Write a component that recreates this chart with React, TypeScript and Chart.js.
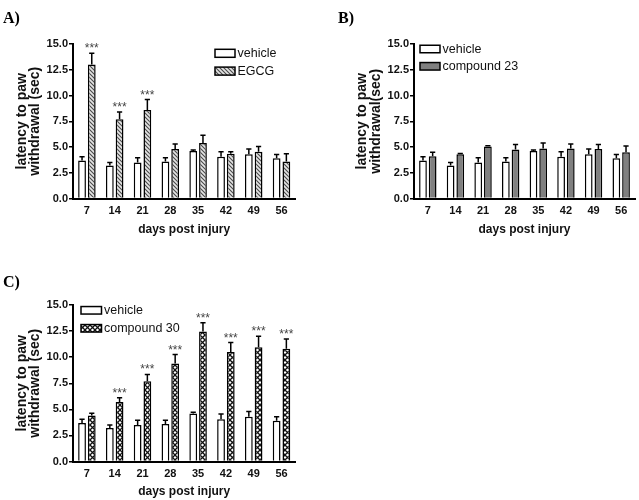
import React, { useEffect, useRef } from 'react';
import { Chart, registerables } from 'chart.js';

Chart.register(...registerables);

// ---- data ----
const days = ['7', '14', '21', '28', '35', '42', '49', '56'];
const yTicks = [0, 2.5, 5, 7.5, 10, 12.5, 15];

const vehicleMean = [3.7, 3.2, 3.5, 3.6, 4.6, 4.05, 4.3, 3.9];
const vehicleSem = [0.35, 0.3, 0.45, 0.35, 0.12, 0.5, 0.5, 0.38];

const egcgMean = [13.0, 7.7, 8.6, 4.8, 5.4, 4.35, 4.55, 3.6];
const egcgSem = [1.1, 0.7, 1.0, 0.5, 0.75, 0.2, 0.5, 0.75];
const egcgSig = ['***', '***', '***', '', '', '', '', ''];

const c23Mean = [4.1, 4.3, 5.05, 4.75, 4.85, 4.85, 4.8, 4.5];
const c23Sem = [0.4, 0.08, 0.08, 0.5, 0.55, 0.45, 0.45, 0.6];
const c23Sig = ['', '', '', '', '', '', '', ''];

const c30Mean = [4.4, 5.7, 7.7, 9.4, 12.45, 10.5, 10.95, 10.8];
const c30Sem = [0.22, 0.4, 0.65, 0.85, 0.85, 0.9, 1.05, 0.95];
const c30Sig = ['', '***', '***', '***', '***', '***', '***', '***'];

const noSig = ['', '', '', '', '', '', '', ''];

// ---- patterns ----
function hatchPattern(): CanvasPattern | string {
  const c = document.createElement('canvas');
  c.width = 4;
  c.height = 4;
  const g = c.getContext('2d');
  if (!g) return '#bbb';
  g.fillStyle = '#e4e4e4';
  g.fillRect(0, 0, 4, 4);
  g.strokeStyle = '#4a4a4a';
  g.lineWidth = 1.1;
  g.beginPath();
  g.moveTo(-1, -1);
  g.lineTo(5, 5);
  g.moveTo(3, -1);
  g.lineTo(5, 1);
  g.moveTo(-1, 3);
  g.lineTo(1, 5);
  g.stroke();
  return g.createPattern(c, 'repeat') || '#bbb';
}

function crossPattern(): CanvasPattern | string {
  const s = 5;
  const c = document.createElement('canvas');
  c.width = s;
  c.height = s;
  const g = c.getContext('2d');
  if (!g) return '#666';
  g.fillStyle = '#ffffff';
  g.fillRect(0, 0, s, s);
  g.strokeStyle = '#111';
  g.lineWidth = 1.3;
  g.beginPath();
  g.moveTo(-1, -1);
  g.lineTo(s + 1, s + 1);
  g.moveTo(s + 1, -1);
  g.lineTo(-1, s + 1);
  g.stroke();
  return g.createPattern(c, 'repeat') || '#666';
}

// ---- plugins ----
const errorBarPlugin = {
  id: 'errBars',
  afterDatasetsDraw(chart: any, _args: any, opts: any) {
    const ctx = chart.ctx;
    const yScale = chart.scales.y;
    chart.data.datasets.forEach((ds: any, di: number) => {
      const meta = chart.getDatasetMeta(di);
      const errs: number[] = opts.errors[di];
      const sig: string[] = opts.sig[di];
      meta.data.forEach((bar: any, i: number) => {
        const v = ds.data[i];
        const yTop = yScale.getPixelForValue(v + errs[i]);
        ctx.save();
        ctx.strokeStyle = '#000';
        ctx.lineWidth = 1.5;
        ctx.beginPath();
        ctx.moveTo(bar.x, bar.y);
        ctx.lineTo(bar.x, yTop);
        ctx.moveTo(bar.x - 2.6, yTop);
        ctx.lineTo(bar.x + 2.6, yTop);
        ctx.stroke();
        if (sig && sig[i]) {
          ctx.fillStyle = '#444';
          ctx.font = '12px "Liberation Sans", Arial, sans-serif';
          ctx.textAlign = 'center';
          ctx.textBaseline = 'alphabetic';
          ctx.fillText(sig[i], bar.x, yTop - 1);
        }
        ctx.restore();
      });
    });
  },
};

const boxLegendPlugin = {
  id: 'boxLegend',
  afterDraw(chart: any, _args: any, opts: any) {
    const ctx = chart.ctx;
    chart.data.datasets.forEach((ds: any, i: number) => {
      const cy = opts.y + i * opts.dy;
      ctx.save();
      ctx.fillStyle = ds.backgroundColor;
      ctx.fillRect(opts.x, cy - opts.h / 2, opts.w, opts.h);
      ctx.strokeStyle = '#000';
      ctx.lineWidth = 1.5;
      ctx.strokeRect(opts.x, cy - opts.h / 2, opts.w, opts.h);
      ctx.fillStyle = '#111';
      ctx.font = '12.5px "Liberation Sans", Arial, sans-serif';
      ctx.textAlign = 'left';
      ctx.textBaseline = 'middle';
      ctx.fillText(ds.label, opts.x + opts.w + 2.5, cy + 0.5);
      ctx.restore();
    });
  },
};

type PanelSpec = {
  treatLabel: string;
  treatMean: number[];
  treatSem: number[];
  treatSig: string[];
  treatFill: () => CanvasPattern | string;
  yTitle: string[];
  yTitlePad: number;
  yTitleLH: number;
  yAxisWidth: number;
  xAxisHeight: number;
  padTop: number;
  padRight: number;
  xTitlePadBottom: number;
  legend: { x: number; y: number; dy: number; w: number; h: number };
};

function buildConfig(p: PanelSpec): any {
  return {
    type: 'bar',
    data: {
      labels: days,
      datasets: [
        {
          label: 'vehicle',
          data: vehicleMean,
          backgroundColor: '#ffffff',
          borderColor: '#000',
          borderWidth: 1.5,
          barPercentage: 0.8,
          categoryPercentage: 0.7,
        },
        {
          label: p.treatLabel,
          data: p.treatMean,
          backgroundColor: p.treatFill(),
          borderColor: '#000',
          borderWidth: 1.5,
          barPercentage: 0.8,
          categoryPercentage: 0.7,
        },
      ],
    },
    options: {
      animation: false,
      responsive: false,
      maintainAspectRatio: false,
      events: [],
      layout: { padding: { top: p.padTop, right: p.padRight, bottom: 0, left: 0 } },
      plugins: {
        legend: { display: false },
        tooltip: { enabled: false },
        title: { display: false },
        errBars: { errors: [vehicleSem, p.treatSem], sig: [noSig, p.treatSig] },
        boxLegend: p.legend,
      },
      scales: {
        x: {
          offset: true,
          grid: { display: false, drawTicks: false },
          border: { display: true, color: '#000', width: 2 },
          ticks: {
            color: '#111',
            padding: 6,
            maxRotation: 0,
            font: { family: '"Liberation Sans", Arial, sans-serif', size: 11, weight: 'bold' },
          },
          title: {
            display: true,
            text: 'days post injury',
            color: '#111',
            padding: { top: 0, bottom: p.xTitlePadBottom },
            font: { family: '"Liberation Sans", Arial, sans-serif', size: 12, weight: 'bold', lineHeight: 1.2 },
          },
          afterFit: (s: any) => {
            s.height = p.xAxisHeight;
          },
        },
        y: {
          min: 0,
          max: 15,
          afterBuildTicks: (s: any) => {
            s.ticks = yTicks.map((v) => ({ value: v }));
          },
          grid: {
            display: true,
            drawOnChartArea: false,
            drawTicks: true,
            tickLength: 4,
            color: '#000',
            lineWidth: 1.5,
          },
          border: { display: true, color: '#000', width: 2 },
          ticks: {
            color: '#111',
            padding: 1,
            callback: (v: any) => Number(v).toFixed(1),
            font: { family: '"Liberation Sans", Arial, sans-serif', size: 11, weight: 'bold' },
          },
          title: {
            display: true,
            text: p.yTitle,
            color: '#111',
            padding: { top: p.yTitlePad, bottom: 0 },
            font: { family: '"Liberation Sans", Arial, sans-serif', size: 14, weight: 'bold', lineHeight: p.yTitleLH },
          },
          afterFit: (s: any) => {
            s.width = p.yAxisWidth;
          },
        },
      },
    },
    plugins: [errorBarPlugin, boxLegendPlugin],
  };
}

function Panel(props: { spec: PanelSpec; left: number; top: number; width: number; height: number }) {
  const ref = useRef<HTMLCanvasElement | null>(null);
  useEffect(() => {
    if (!ref.current) return;
    const chart = new Chart(ref.current, buildConfig(props.spec));
    return () => chart.destroy();
  }, []);
  return (
    <canvas
      ref={ref}
      width={props.width}
      height={props.height}
      style={{
        position: 'absolute',
        left: props.left,
        top: props.top,
        width: props.width,
        height: props.height,
      }}
    />
  );
}

const specA: PanelSpec = {
  treatLabel: 'EGCG',
  treatMean: egcgMean,
  treatSem: egcgSem,
  treatSig: egcgSig,
  treatFill: hatchPattern,
  yTitle: ['latency to paw', 'withdrawal (sec)'],
  yTitlePad: 15.7,
  yTitleLH: 0.93,
  yAxisWidth: 73,
  xAxisHeight: 41.5,
  padTop: 44,
  padRight: 24.6,
  xTitlePadBottom: 3.5,
  legend: { x: 215, y: 53.3, dy: 17.8, w: 20, h: 8 },
};

const specB: PanelSpec = {
  treatLabel: 'compound 23',
  treatMean: c23Mean,
  treatSem: c23Sem,
  treatSig: c23Sig,
  treatFill: () => '#808080',
  yTitle: ['latency to paw', 'withdrawal(sec)'],
  yTitlePad: 34.9,
  yTitleLH: 1.0,
  yAxisWidth: 94,
  xAxisHeight: 41.5,
  padTop: 44,
  padRight: 4,
  xTitlePadBottom: 3.5,
  legend: { x: 100, y: 49, dy: 17.3, w: 20, h: 7.5 },
};

const specC: PanelSpec = {
  treatLabel: 'compound 30',
  treatMean: c30Mean,
  treatSem: c30Sem,
  treatSig: c30Sig,
  treatFill: crossPattern,
  yTitle: ['latency to paw', 'withdrawal (sec)'],
  yTitlePad: 15.7,
  yTitleLH: 0.93,
  yAxisWidth: 73,
  xAxisHeight: 38.5,
  padTop: 65,
  padRight: 24.6,
  xTitlePadBottom: 1.1,
  legend: { x: 81, y: 70.3, dy: 18, w: 20.5, h: 7.5 },
};

const labelStyle: React.CSSProperties = {
  position: 'absolute',
  fontFamily: '"Liberation Serif", "Times New Roman", serif',
  fontWeight: 'bold',
  fontSize: 16,
  lineHeight: '16px',
  color: '#000',
};

export default function App() {
  return (
    <div
      style={{
        position: 'fixed',
        left: 0,
        top: 0,
        width: 639,
        height: 500,
        background: '#ffffff',
        overflow: 'hidden',
      }}
    >
      <Panel spec={specA} left={0} top={0} width={320} height={240} />
      <Panel spec={specB} left={320} top={0} width={319} height={240} />
      <Panel spec={specC} left={0} top={240} width={320} height={260} />
      <div style={{ ...labelStyle, left: 3, top: 10 }}>A)</div>
      <div style={{ ...labelStyle, left: 338, top: 10 }}>B)</div>
      <div style={{ ...labelStyle, left: 3, top: 274 }}>C)</div>
    </div>
  );
}
